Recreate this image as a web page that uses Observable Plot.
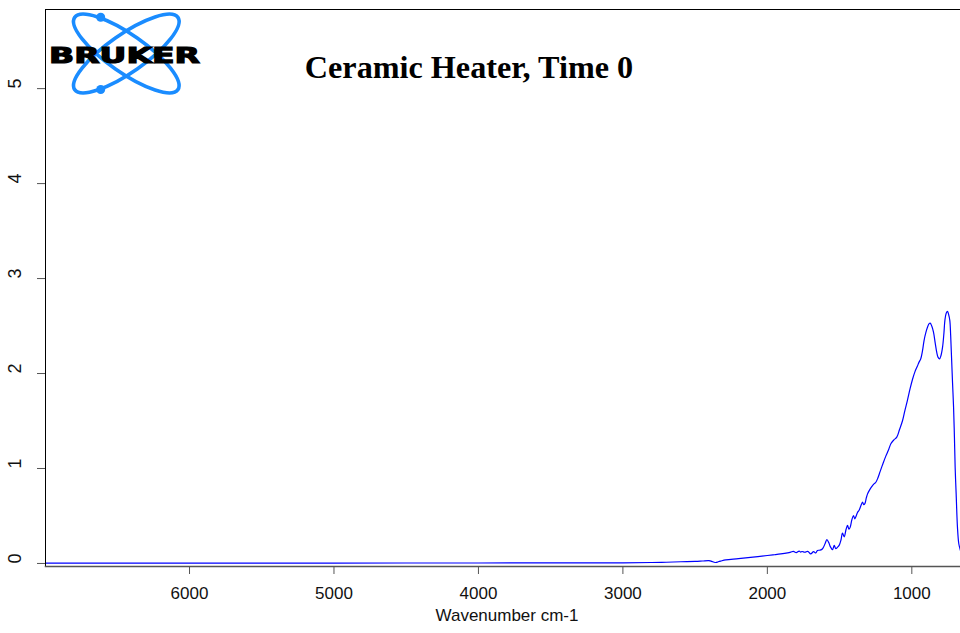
<!DOCTYPE html>
<html>
<head>
<meta charset="utf-8">
<script src="https://cdn.jsdelivr.net/npm/d3@7"></script>
<script src="https://cdn.jsdelivr.net/npm/@observablehq/plot@0.6"></script>
<style>
  html, body { margin: 0; padding: 0; background: #fff; }
  #wrap { position: relative; width: 960px; height: 633px; overflow: hidden; }
  #overlay { position: absolute; left: 0; top: 0; pointer-events: none; }
</style>
</head>
<body>
<div id="wrap">
  <div id="chart"></div>
  <svg id="overlay" width="960" height="633" xmlns="http://www.w3.org/2000/svg">
    <g fill="none" stroke="#1a8cff" stroke-width="3.6">
      <ellipse cx="126.3" cy="53.5" rx="63" ry="19" transform="rotate(35 126.3 53.5)"/>
      <ellipse cx="126.3" cy="53.5" rx="63" ry="19" transform="rotate(-35 126.3 53.5)"/>
    </g>
    <circle cx="100.7" cy="17.3" r="4.5" fill="#1a8cff"/>
    <circle cx="100.7" cy="89.5" r="4.5" fill="#1a8cff"/>
    <text x="49" y="63" font-family="DejaVu Sans" font-weight="bold" font-size="22" textLength="151" lengthAdjust="spacingAndGlyphs" fill="#000" stroke="#000" stroke-width="1.2">BRUKER</text>
    <text x="469" y="78" text-anchor="middle" font-family="Liberation Serif" font-weight="bold" font-size="32.2" fill="#000">Ceramic Heater, Time 0</text>
  </svg>
</div>
<script>
// Wavenumber (cm-1) and absorbance
const wavenumber = [
  7000, 6500, 6000, 5500, 5000, 4500, 4000, 3500, 3000, 2800, 2700, 2600, 2500, 2450, 2404, 2385, 2369, 2357, 2340, 2323,
  2288, 2200, 2100, 2000, 1950, 1907, 1860, 1838, 1820, 1800, 1780, 1769, 1760, 1740, 1720, 1700, 1680, 1665, 1653, 1635,
  1618, 1600, 1588, 1575, 1565, 1549, 1537, 1526, 1515, 1503, 1490, 1480, 1468, 1455, 1445, 1435, 1427, 1415, 1404, 1395,
  1388, 1375, 1365, 1352, 1341, 1333, 1325, 1315, 1307, 1290, 1272, 1260, 1249, 1235, 1219, 1200, 1180, 1160, 1145, 1125,
  1104, 1085, 1064, 1048, 1030, 1012, 995, 978, 961, 950, 938, 926, 915, 903, 891, 880, 873, 862, 850, 838,
  827, 818, 808, 798, 787, 778, 771, 762, 753, 745, 737, 731, 725, 718, 711, 705, 700, 693, 684, 675,
  665, 661
];
const absorbance = [
  0.003, 0.003, 0.003, 0.004, 0.004, 0.005, 0.005, 0.006, 0.007, 0.010, 0.013, 0.018, 0.022, 0.026, 0.030, 0.022, 0.013, 0.010, 0.018, 0.025,
  0.038, 0.050, 0.066, 0.084, 0.092, 0.100, 0.112, 0.120, 0.128, 0.115, 0.130, 0.120, 0.126, 0.118, 0.128, 0.100, 0.125, 0.110, 0.137, 0.140,
  0.155, 0.210, 0.250, 0.220, 0.180, 0.145, 0.190, 0.155, 0.170, 0.190, 0.250, 0.320, 0.280, 0.360, 0.400, 0.360, 0.380, 0.460, 0.505, 0.470,
  0.490, 0.540, 0.560, 0.610, 0.645, 0.620, 0.630, 0.690, 0.730, 0.780, 0.820, 0.840, 0.855, 0.900, 0.970, 1.050, 1.130, 1.200, 1.260, 1.300,
  1.330, 1.410, 1.505, 1.610, 1.720, 1.840, 1.940, 2.020, 2.080, 2.120, 2.155, 2.240, 2.350, 2.430, 2.490, 2.525, 2.530, 2.500, 2.435, 2.320,
  2.220, 2.170, 2.155, 2.190, 2.280, 2.420, 2.560, 2.635, 2.655, 2.620, 2.560, 2.400, 2.170, 1.900, 1.645, 1.330, 1.010, 0.730, 0.380, 0.210,
  0.145, 0.120
];
const xTicks = [6000, 5000, 4000, 3000, 2000, 1000];
const yTicks = [0, 1, 2, 3, 4, 5];
const xLabel = ["Wavenumber cm-1"];

const spectrum = wavenumber.map((w, i) => ({w, a: absorbance[i]}));

const chart = Plot.plot({
  width: 960,
  height: 633,
  marginLeft: 45,
  marginRight: 0,
  marginTop: 9,
  marginBottom: 67,
  style: {fontFamily: "Liberation Sans, Arial, sans-serif", fontSize: "17px", color: "#111", background: "#fff"},
  x: {domain: [6997, 663]},
  y: {domain: [-0.032, 5.833]},
  marks: [
    Plot.line(spectrum, {x: "w", y: "a", stroke: "#0000ff", strokeWidth: 1.2, curve: "catmull-rom", clip: true}),
    Plot.frame({anchor: "top", stroke: "#000"}),
    Plot.frame({anchor: "left", stroke: "#000"}),
    Plot.frame({anchor: "bottom", stroke: "#555", strokeWidth: 1.5}),
    Plot.axisX({ticks: xTicks, tickSize: 8, tickPadding: 12, tickFormat: d => String(d), label: null, stroke: "#555", fontSize: 17}),
    Plot.axisY({ticks: yTicks, tickSize: 8, tickFormat: () => "", label: null, stroke: "#555"}),
    Plot.text(yTicks, {y: d => d, text: d => String(d), frameAnchor: "left", dx: -30, rotate: -90, fontSize: 18, fill: "#111"}),
    Plot.text(xLabel, {text: d => d, frameAnchor: "bottom", dy: 54, dx: 4, fontSize: 17, fill: "#111"})
  ]
});
document.getElementById("chart").appendChild(chart);
</script>
</body>
</html>
